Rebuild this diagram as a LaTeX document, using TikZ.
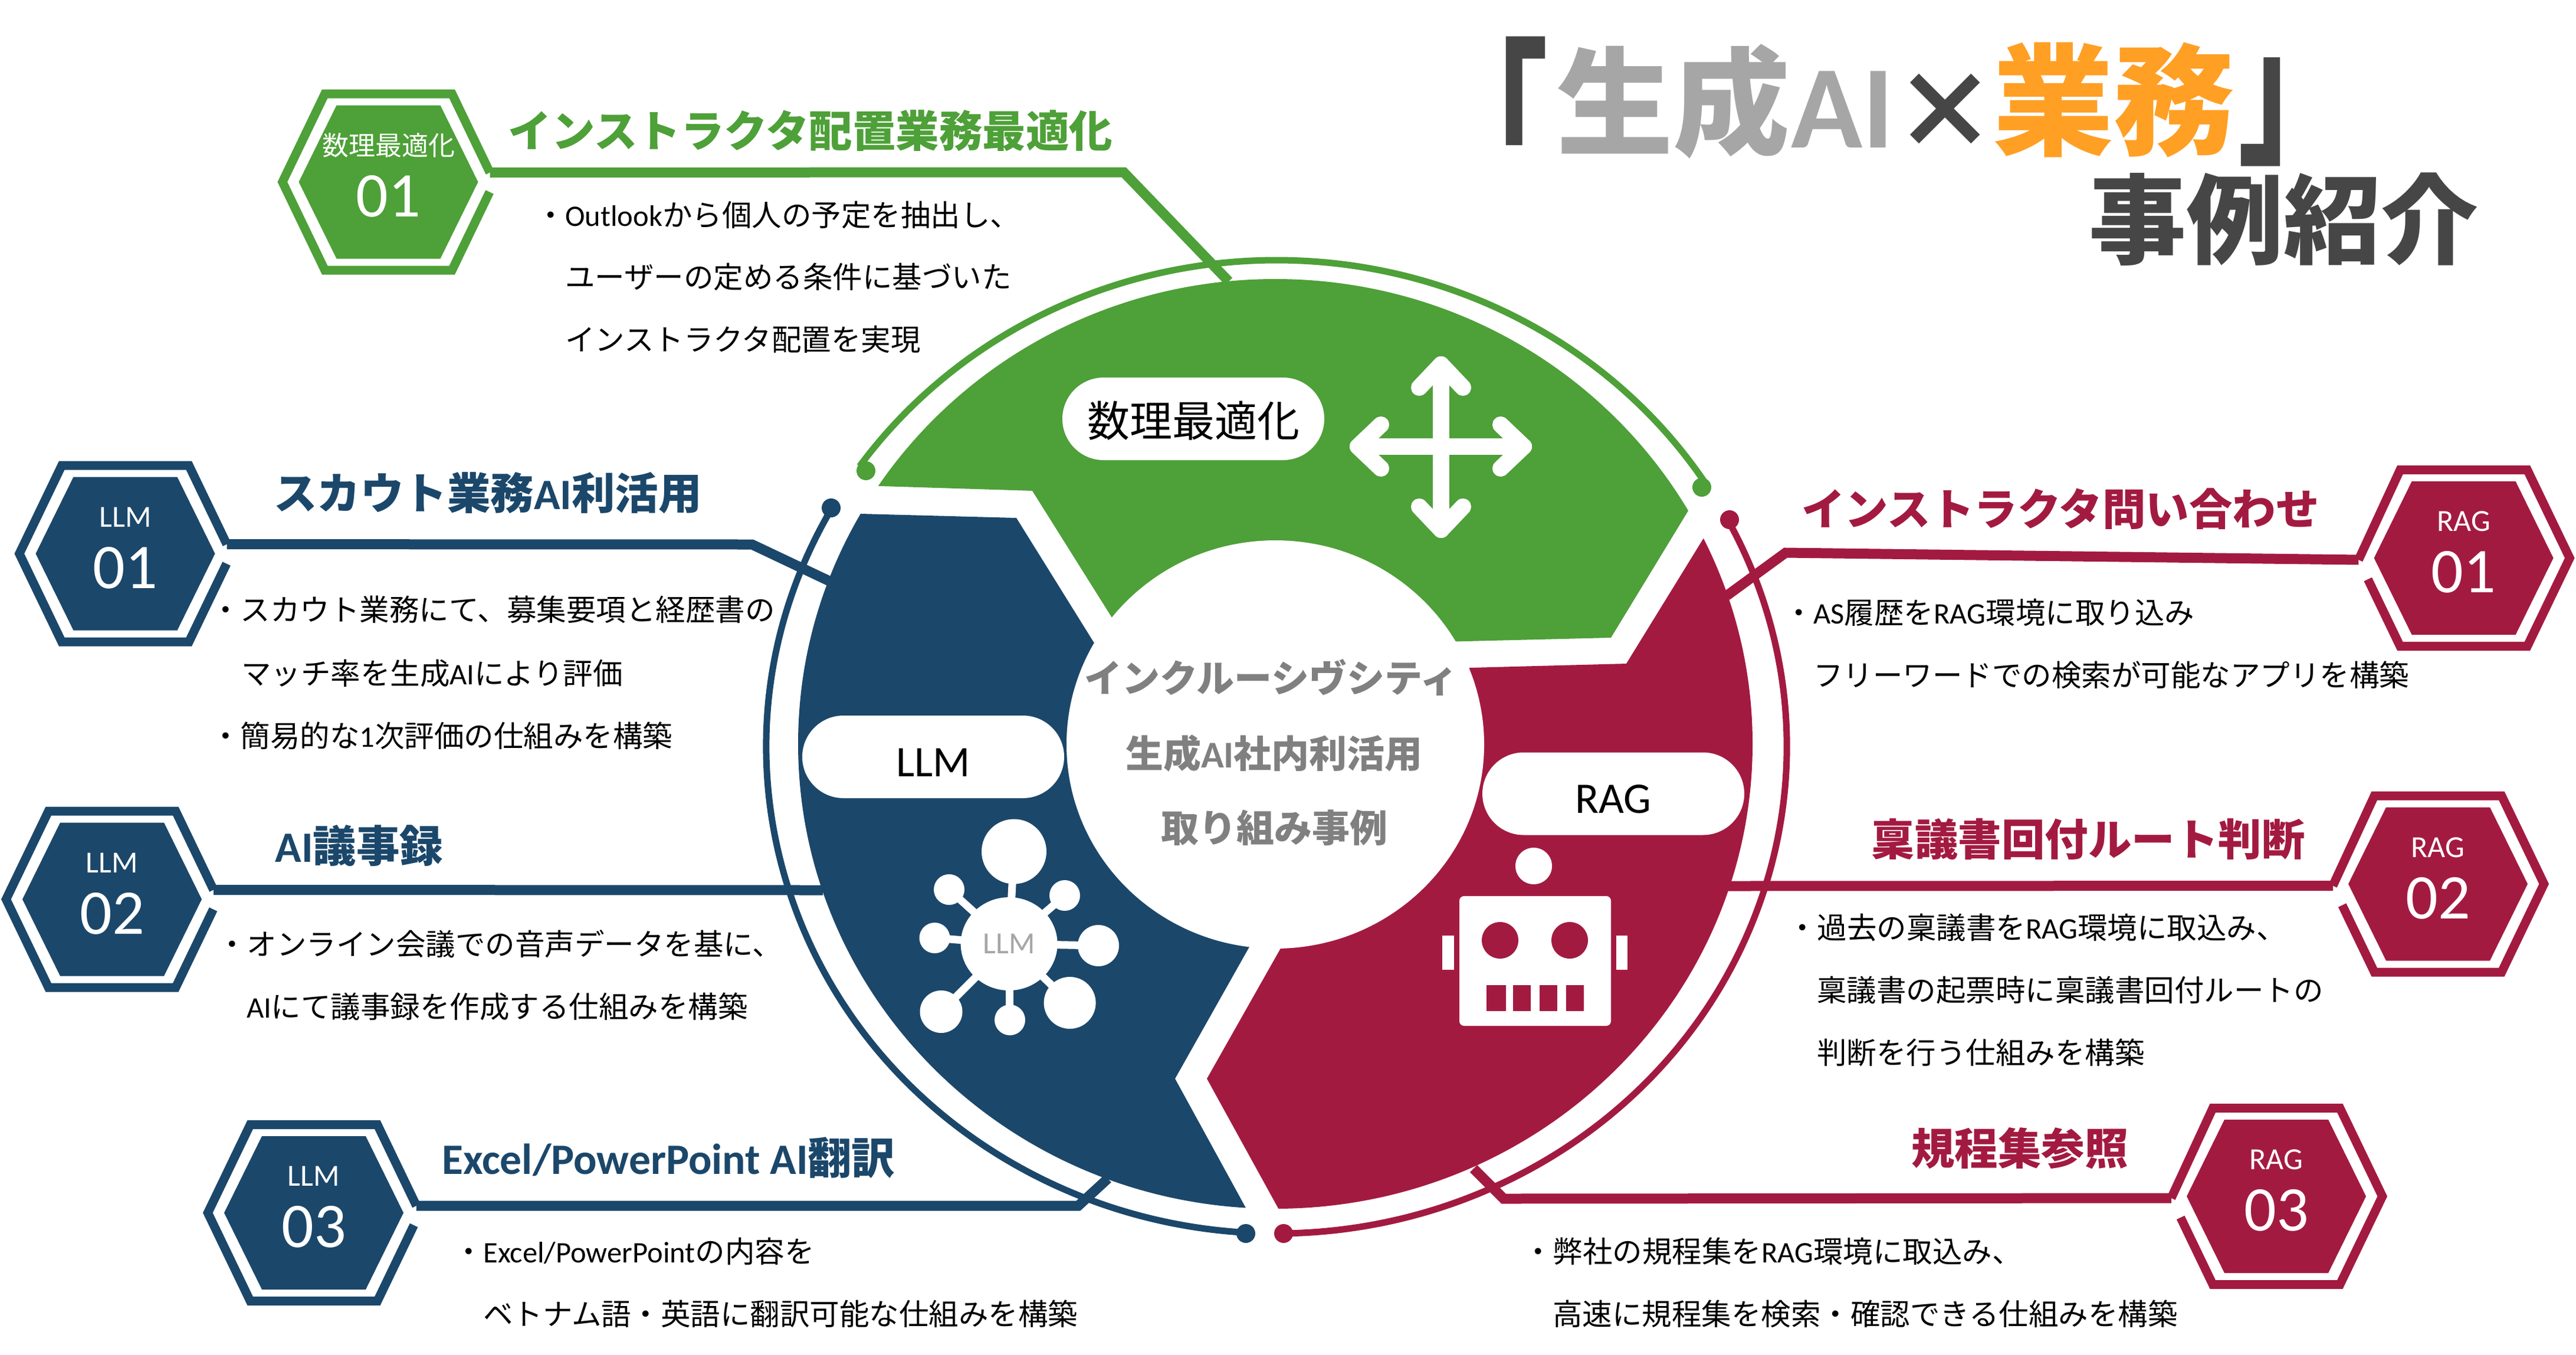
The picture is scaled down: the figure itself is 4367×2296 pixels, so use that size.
\documentclass[tikz,border=0pt]{standalone}
\usepackage{graphicx}
\usepackage{fontspec}
\setmainfont{Noto Sans CJK JP}
\newfontfamily\latf{Carlito}
\newcommand{\lat}[1]{{\latf #1}}
\definecolor{cgreen}{HTML}{4EA038}
\definecolor{cblue}{HTML}{1B476A}
\definecolor{cred}{HTML}{A31A41}
\definecolor{cgray}{HTML}{A6A6A6}
\definecolor{cdark}{HTML}{464646}
\definecolor{corange}{HTML}{FF9F24}
\definecolor{cmid}{HTML}{808080}
\newcommand{\fs}[1]{\fontsize{#1}{#1}\selectfont}
\tikzset{
  txt/.style={inner sep=0pt,outer sep=0pt},
  bodyline/.style={txt,anchor=base west,text=black,font=\fs{50.5}},
  headtxt/.style={txt,font=\bfseries\fs{73.5}},
  connector/.style={line width=17pt,line join=miter},
  thinarc/.style={line width=11pt},
  pill/.style={fill=white,rounded corners=70pt,minimum width=444pt,minimum height=140pt,inner sep=0pt,font=\fs{72},text=black},
  centertxt/.style={txt,font=\bfseries\fs{64},text=cmid},
  hexsmall/.style={txt,text=white},
  titlepart/.style={txt,anchor=base},
}
% name, cx, cy, colour, label, label size, number, side, join dy
\newcommand{\hexa}[9]{%
  \begin{scope}[shift={(#2,#3)},xscale=#8]
    \draw[#4,line width=15pt,miter limit=10]
      ({179.7-0.481*abs(#9)},#9) -- (107.8,-149.5) -- (-107.8,-149.5) -- (-179.7,0) -- (-107.8,149.5) -- (107.8,149.5) -- ({179.7-0.481*abs((#9)+33)},{(#9)+33});
    \fill[#4] (152,0) -- (88,-130) -- (-88,-130) -- (-152,0) -- (-88,130) -- (88,130) -- cycle;
    \coordinate (#1-j) at ({179.7-0.481*abs(#9)},#9);
  \end{scope}
  \node[hexsmall,font=\fs{#6}] (#1-l) at (#2,#3-62) {#5};
  \node[hexsmall,font=\latf\fs{108}] (#1-n) at (#2,#3+24) {#7};
}
\begin{document}
\begin{tikzpicture}[x=1pt,y=-1pt]
\useasboundingbox (0,0) rectangle (4367,2296);
\fill[white] (0,0) rectangle (4367,2296);

% ---- connector bends
\coordinate (gb) at (1905,292); \coordinate (ge) at (2083,477);
\coordinate (l1b) at (1275,923); \coordinate (l1e) at (1408,986);
\coordinate (l2e) at (1395,1509);
\coordinate (l3b) at (1828,2044); \coordinate (l3e) at (1878,1998);
\coordinate (r1b) at (3027,937); \coordinate (r1e) at (2927,1010);
\coordinate (r2e) at (2929,1502);
\coordinate (r3b) at (2549,2032); \coordinate (r3e) at (2498,1981);

% ---- hexagons
\hexa{hg}{658.5}{308.5}{cgreen}{数理最適化}{45}{01}{1}{-16}
\hexa{hl1}{212.5}{938.6}{cblue}{\lat{LLM}}{52}{01}{1}{-16}
\hexa{hl2}{190}{1524.5}{cblue}{\lat{LLM}}{52}{02}{1}{-16}
\hexa{hl3}{532}{2056}{cblue}{\lat{LLM}}{52}{03}{1}{-12}
\hexa{hr1}{4176.6}{946}{cred}{\lat{RAG}}{52}{01}{-1}{3}
\hexa{hr2}{4133}{1498.5}{cred}{\lat{RAG}}{52}{02}{-1}{3}
\hexa{hr3}{3859}{2028}{cred}{\lat{RAG}}{52}{03}{-1}{3}

% ---- connectors
\draw[connector,cgreen] (hg-j) -- (gb) -- (ge);
\draw[connector,cblue] (hl1-j) -- (l1b) -- (l1e);
\draw[connector,cblue] (hl2-j) -- (l2e);
\draw[connector,cblue] (hl3-j) -- (l3b) -- (l3e);
\draw[connector,cred] (hr1-j) -- (r1b) -- (r1e);
\draw[connector,cred] (hr2-j) -- (r2e);
\draw[connector,cred] (hr3-j) -- (r3b) -- (r3e);

% ---- thin arcs with dots
\draw[thinarc,cgreen] (2164,1266) ++(144.8:865pt and 825pt) arc[start angle=144.8,end angle=32.6,x radius=865pt,y radius=825pt];
\draw[thinarc,cblue] (2164,1266) ++(150.7:865pt and 825pt) arc[start angle=150.7,end angle=266.5,x radius=865pt,y radius=825pt];
\draw[thinarc,cred] (2164,1266) ++(27.7:865pt and 825pt) arc[start angle=27.7,end angle=-89,x radius=865pt,y radius=825pt];
\fill[cgreen] (1468,798) circle[radius=16pt] (2885,826) circle[radius=16pt];
\fill[cblue] (1409,861) circle[radius=16pt] (2112,2091) circle[radius=16pt];
\fill[cred] (2932,881) circle[radius=16pt] (2176,2091) circle[radius=16pt];

% ---- ring sectors
\begin{scope}
  \clip (2162,1261) ellipse[x radius=809pt,y radius=788pt];
  \fill[cgreen] (2162,1262) -- (1885,1047) -- (1750,832) -- (1492,824) -- (1300,818) -- (1300,300) -- (3000,300) -- (2960,705) -- (2860,869) -- (2731,1081) -- (2466,1087.5) -- cycle;
  \fill[cblue] (2162,1262) -- (1854,1088.6) -- (1723,878) -- (1460,871) -- (1300,867) -- (1200,867) -- (1200,2120) -- (2150,2120) -- (2113,2049.5) -- (1992,1828.6) -- (2118,1605) -- cycle;
  \fill[cred] (2162,1262) -- (2492,1132) -- (2757,1125) -- (2886,915.6) -- (2960,796) -- (3100,796) -- (3100,2120) -- (2205,2118) -- (2167.6,2049.5) -- (2046,1828.6) -- (2171,1607.6) -- cycle;
\end{scope}
\fill[white] (2162,1262) ellipse[x radius=354pt,y radius=346pt];

% ---- pills
\node[pill] (pg) at (2023,710) {\raisebox{-30pt}[0pt][0pt]{数理最適化}};
\node[pill] (pl) at (1582,1283) {\raisebox{-33pt}[0pt][0pt]{\latf\fs{74}LLM}};
\node[pill] (pr) at (2735,1345.5) {\raisebox{-33pt}[0pt][0pt]{\latf\fs{74}RAG}};

% ---- arrows icon
\begin{scope}[white,line width=28pt,line cap=round,line join=round]
  \draw (2443,618) -- (2443,898);
  \draw (2302,757) -- (2583,757);
  \draw (2406,657) -- (2443,618) -- (2480,657);
  \draw (2406,859) -- (2443,898) -- (2480,859);
  \draw (2341,720) -- (2302,757) -- (2341,794);
  \draw (2544,720) -- (2583,757) -- (2544,794);
\end{scope}

% ---- LLM network icon
\begin{scope}[white]
  \foreach \px/\py in {1719/1443.5,1609/1508,1805/1518,1584.5/1590,1862/1603,1595.5/1715,1712/1729,1813.6/1700}
    \draw[line width=13pt] (1710.6,1600) -- (\px,\py);
  \fill (1710.6,1600) ellipse[x radius=82pt,y radius=79pt];
  \fill (1719,1443.5) circle[radius=55pt];
  \fill (1609,1508) circle[radius=26pt];
  \fill (1805,1518) circle[radius=26pt];
  \fill (1584.5,1590) circle[radius=26pt];
  \fill (1862,1603) circle[radius=35pt];
  \fill (1595.5,1715) circle[radius=36pt];
  \fill (1712,1729) circle[radius=26pt];
  \fill (1813.6,1700) circle[radius=44pt];
\end{scope}
\node[txt,text=cgray,font=\latf\fs{52}] (netl) at (1710.6,1600) {LLM};

% ---- robot icon
\fill[white] (2600,1468) circle[radius=31pt];
\fill[white,rounded corners=8pt] (2474,1519) rectangle (2731,1739);
\fill[white] (2445,1586) rectangle (2465,1644);
\fill[white] (2740,1586) rectangle (2759,1644);
\fill[cred] (2543,1594) circle[radius=31pt] (2661,1594) circle[radius=31pt];
\fill[cred] (2520,1670) rectangle (2553,1714);
\fill[cred] (2565,1670) rectangle (2595,1714);
\fill[cred] (2610,1670) rectangle (2640,1714);
\fill[cred] (2655,1670) rectangle (2685,1714);

% ---- centre text
\node[centertxt] (c1) at (2155,1148) {インクルーシヴシティ};
\node[centertxt] (c2) at (2160,1277) {生成\lat{AI}社内利活用};
\node[centertxt] (c3) at (2160,1403) {取り組み事例};

% ---- title
\node[titlepart,anchor=base west,text=cdark,font=\bfseries\fs{195}] (tt1) at (2429,310) {\scalebox{1}[1.49]{「}};
\node[titlepart,text=cgray,font=\bfseries\fs{198}] (tt2) at (2836.5,247) {生成};
\node[titlepart,anchor=base east,text=cgray,font=\latf\bfseries\fs{200}] (tt3) at (3211,250) {AI};
\node[titlepart,text=cdark,font=\bfseries\fs{178}] (tt4) at (3297,252) {×};
\node[titlepart,text=corange,font=\bfseries\fs{205}] (tt5) at (3583,247) {業務};
\node[titlepart,anchor=base west,text=cdark,font=\bfseries\fs{195}] (tt6) at (3794,254) {\scalebox{1}[1.49]{」}};
\node[txt,font=\bfseries\fs{165},text=cdark] (title2) at (3871,372) {事例紹介};

% ---- headings
\node[headtxt,text=cgreen] (hd1) at (1374,222) {インストラクタ配置業務最適化};
\node[headtxt,text=cblue] (hd2) at (827,836) {スカウト業務\lat{AI}利活用};
\node[headtxt,text=cblue] (hd3) at (609,1434) {\lat{AI}議事録};
\node[headtxt,text=cblue] (hd4) at (1133,1963) {\lat{Excel/PowerPoint AI}翻訳};
\node[headtxt,text=cred] (hd5) at (3493,863) {インストラクタ問い合わせ};
\node[headtxt,text=cred] (hd6) at (3540,1423) {稟議書回付ルート判断};
\node[headtxt,text=cred] (hd7) at (3424,1947) {規程集参照};

% ---- body lines
\node[bodyline] (b1a) at (908,383) {・\lat{Outlook}から個人の予定を抽出し、};
\node[bodyline] (b1b) at (958,488) {ユーザーの定める条件に基づいた};
\node[bodyline] (b1c) at (958,594) {インストラクタ配置を実現};
\node[bodyline] (b2a) at (357,1052) {・スカウト業務にて、募集要項と経歴書の};
\node[bodyline] (b2b) at (409,1160) {マッチ率を生成\lat{AI}により評価};
\node[bodyline] (b2c) at (357,1266) {・簡易的な\lat{1}次評価の仕組みを構築};
\node[bodyline] (b3a) at (368,1619) {・オンライン会議での音声データを基に、};
\node[bodyline] (b3b) at (418,1725) {\lat{AI}にて議事録を作成する仕組みを構築};
\node[bodyline] (b4a) at (769,2140) {・\lat{Excel/PowerPoint}の内容を};
\node[bodyline] (b4b) at (819,2246) {ベトナム語・英語に翻訳可能な仕組みを構築};
\node[bodyline] (b5a) at (3024,1057) {・\lat{AS}履歴を\lat{RAG}環境に取り込み};
\node[bodyline] (b5b) at (3074,1163) {フリーワードでの検索が可能なアプリを構築};
\node[bodyline] (b6a) at (3030,1591) {・過去の稟議書を\lat{RAG}環境に取込み、};
\node[bodyline] (b6b) at (3080,1697) {稟議書の起票時に稟議書回付ルートの};
\node[bodyline] (b6c) at (3080,1803) {判断を行う仕組みを構築};
\node[bodyline] (b7a) at (2582,2140) {・弊社の規程集を\lat{RAG}環境に取込み、};
\node[bodyline] (b7b) at (2632,2246) {高速に規程集を検索・確認できる仕組みを構築};
\end{tikzpicture}
\end{document}
